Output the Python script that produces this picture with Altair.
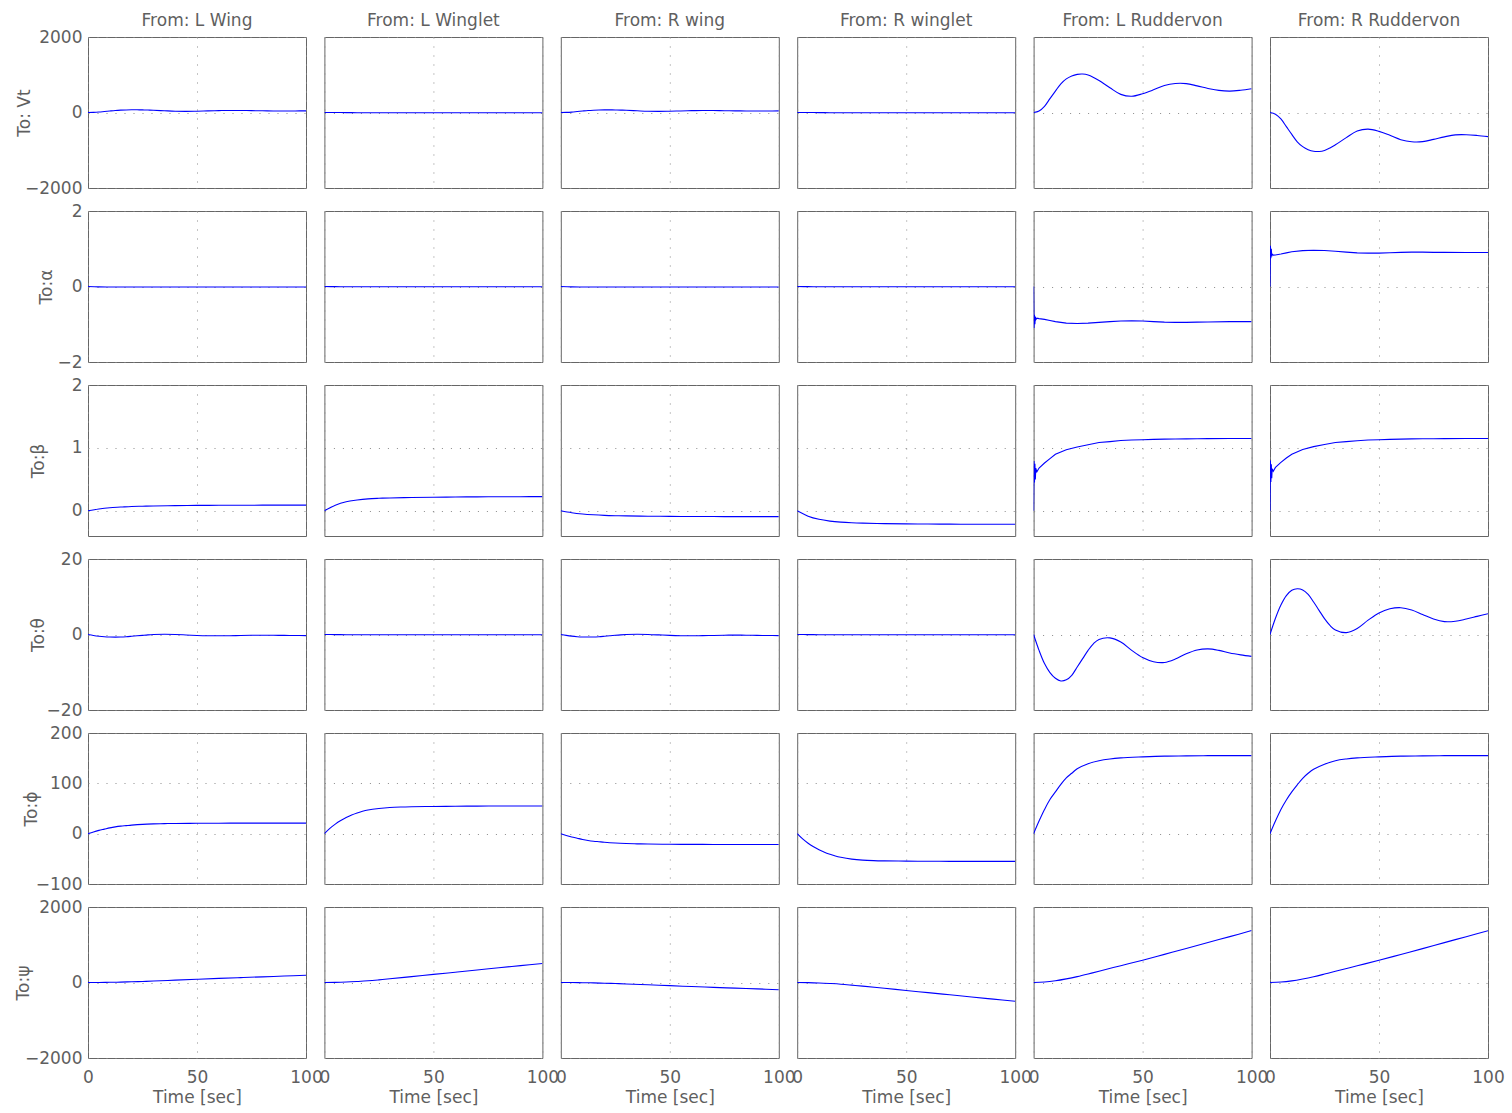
import altair as alt
import pandas as pd

# ---------------- time grids (s) ----------------
T = [0, 2.5, 5, 7.5, 10, 12.5, 15, 17.5, 20, 22.5, 25, 27.5, 30,
     35, 40, 45, 50, 55, 60, 65, 70, 75, 80, 85, 90, 95, 100]
T_SPIKE = [0, 0.2, 0.4, 0.6, 0.8, 1.0, 1.5, 2.5, 5, 7.5, 10, 15, 20, 25, 30,
           35, 40, 45, 50, 55, 60, 65, 70, 75, 80, 90, 100]
T_P = [0, 2.5, 5, 7.5, 10, 12.5, 15, 17.5, 20, 25, 30, 35, 40, 50, 60, 70, 80, 90, 100]
T_C = [0, 5, 10, 15, 20, 25, 30, 40, 50, 60, 70, 80, 90, 100]

# ---------------- To: Vt ----------------
VT_LW = [0, 3, 12, 26, 40, 53, 62, 68, 71, 71, 69, 65, 59,
         46, 34, 30, 35, 42, 50, 54, 54, 49, 45, 41, 40, 41, 44]
VT_LWL = [0, -1, -3, -5, -6, -7, -8, -8, -8, -8, -8, -8, -8, -8]
VT_RW = [0, 3, 11, 25, 39, 52, 61, 67, 70, 70, 68, 64, 58,
         45, 33, 29, 34, 41, 49, 53, 53, 48, 44, 40, 39, 40, 43]
VT_RWL = [0, -1, -3, -5, -6, -7, -8, -8, -8, -8, -8, -8, -8, -8]
VT_LR = [0, 42, 165, 367, 566, 760, 890, 969, 1011, 1020, 995, 930, 846,
         655, 480, 430, 498, 600, 715, 768, 765, 705, 638, 585, 567, 590, 629]
VT_RR = [0, -45, -170, -375, -580, -775, -905, -985, -1028, -1032, -1005, -940, -855,
         -665, -490, -440, -500, -605, -720, -775, -772, -712, -645, -592, -588, -608, -639]

# ---------------- To: alpha ----------------
AL_LW = [0, -0.01, -0.012, -0.013, -0.013, -0.013, -0.013, -0.013, -0.013, -0.013, -0.013, -0.013, -0.013, -0.013]
AL_LWL = [0, -0.004, -0.005, -0.005, -0.005, -0.005, -0.005, -0.005, -0.005, -0.005, -0.005, -0.005, -0.005, -0.005]
AL_RW = [0, -0.01, -0.012, -0.013, -0.013, -0.013, -0.013, -0.013, -0.013, -0.013, -0.013, -0.013, -0.013, -0.013]
AL_RWL = [0, -0.004, -0.005, -0.005, -0.005, -0.005, -0.005, -0.005, -0.005, -0.005, -0.005, -0.005, -0.005, -0.005]
AL_LR = [0, -1.1, -0.75, -1.0, -0.8, -0.88, -0.84, -0.85, -0.87, -0.9, -0.93, -0.97, -0.98, -0.97,
         -0.95, -0.93, -0.915, -0.91, -0.915, -0.93, -0.945, -0.95, -0.95, -0.945, -0.94, -0.93, -0.93]
AL_RR = [0, 1.08, 0.75, 1.0, 0.8, 0.86, 0.83, 0.835, 0.86, 0.89, 0.92, 0.95, 0.96, 0.955,
         0.935, 0.91, 0.89, 0.885, 0.885, 0.895, 0.905, 0.91, 0.91, 0.905, 0.905, 0.9, 0.9]

# ---------------- To: beta ----------------
BE_LW = [0, 0.03, 0.05, 0.06, 0.07, 0.074, 0.078, 0.083, 0.086, 0.088, 0.089, 0.09, 0.09, 0.09]
BE_LWL = [0, 0.09, 0.145, 0.172, 0.19, 0.199, 0.205, 0.212, 0.216, 0.22, 0.222, 0.224, 0.225, 0.226]
BE_RW = [0, -0.03, -0.05, -0.063, -0.072, -0.077, -0.08, -0.085, -0.088, -0.09, -0.091, -0.092, -0.092, -0.092]
BE_RWL = [0, -0.085, -0.135, -0.163, -0.18, -0.19, -0.196, -0.203, -0.207, -0.21, -0.212, -0.213, -0.214, -0.214]
BE_LR = [0, 0.79, 0.45, 0.75, 0.5, 0.68, 0.62, 0.68, 0.76, 0.83, 0.9, 0.97, 1.015, 1.05, 1.085,
         1.1, 1.117, 1.125, 1.13, 1.135, 1.14, 1.142, 1.144, 1.146, 1.147, 1.149, 1.15]
BE_RR = [0, 0.8, 0.46, 0.74, 0.52, 0.67, 0.63, 0.69, 0.77, 0.84, 0.9, 0.975, 1.02, 1.055, 1.085,
         1.1, 1.115, 1.125, 1.13, 1.135, 1.14, 1.143, 1.145, 1.146, 1.147, 1.149, 1.15]

# ---------------- To: theta ----------------
TH_LW = [0, -0.25, -0.45, -0.6, -0.68, -0.7, -0.68, -0.6, -0.48, -0.35, -0.22, -0.1, -0.02,
         0.05, 0.0, -0.12, -0.25, -0.33, -0.35, -0.32, -0.26, -0.2, -0.18, -0.2, -0.24, -0.27, -0.3]
TH_LWL = [0, -0.03, -0.05, -0.05, -0.05, -0.05, -0.05, -0.05, -0.05, -0.05, -0.05, -0.05, -0.05, -0.05]
TH_RW = [0, -0.24, -0.44, -0.58, -0.66, -0.68, -0.66, -0.58, -0.46, -0.33, -0.2, -0.09, -0.01,
         0.05, 0.0, -0.11, -0.24, -0.32, -0.34, -0.31, -0.25, -0.19, -0.17, -0.19, -0.23, -0.26, -0.29]
TH_RWL = [0, -0.03, -0.05, -0.05, -0.05, -0.05, -0.05, -0.05, -0.05, -0.05, -0.05, -0.05, -0.05, -0.05]
TH_LR = [0, -4.2, -7.7, -10.1, -11.6, -12.3, -12.0, -10.8, -8.6, -6.4, -4.2, -2.4, -1.3,
         -0.9, -2.0, -4.2, -6.1, -7.2, -7.4, -6.5, -5.1, -4.1, -3.8, -4.2, -4.9, -5.4, -5.8]
TH_RR = [0, 4.3, 7.8, 10.3, 11.7, 12.1, 11.8, 10.6, 8.6, 6.4, 4.2, 2.4, 1.2,
         0.5, 1.6, 3.8, 5.7, 6.8, 7.1, 6.5, 5.3, 4.1, 3.4, 3.5, 4.1, 4.8, 5.5]

# ---------------- To: phi ----------------
PH_LW = [0, 3.5, 6.5, 9, 11.5, 13.5, 15, 16, 17, 18.5, 19.4, 20, 20.3, 20.6, 20.8, 21, 21, 21, 21]
PH_LWL = [0, 10.5, 19, 26, 32, 37, 41, 44.5, 47, 50, 52, 53, 53.5, 54, 54.5, 54.8, 55, 55, 55]
PH_RW = [0, -3.5, -6.5, -9, -11.5, -13.5, -15, -16, -17, -18.5, -19.5, -20.2, -20.6, -21, -21.3, -21.4, -21.5, -21.5, -21.5]
PH_RWL = [0, -10.5, -19, -26, -32, -37, -41, -44.5, -47, -50.5, -52.5, -53.5, -54, -54.5, -54.8, -55, -55, -55, -55]
PH_LR = [0, 25, 48, 68, 83, 98, 111, 120, 129, 139, 145, 148.5, 150.5, 152.5, 154, 154.5, 155, 155, 155]
PH_RR = [0, 25, 48, 67, 83, 97, 110, 120, 128, 138, 145, 148.5, 150.5, 152.5, 154, 154.5, 155, 155, 155]

# ---------------- To: psi ----------------
PS_LW = [0, 1, 5, 11, 19, 28, 38, 62, 86, 108, 130, 150, 171, 191]
PS_LWL = [0, 3, 12, 27, 45, 70, 98, 155, 215, 272, 330, 390, 447, 504]
PS_RW = [0, -1, -5, -11, -19, -28, -38, -61, -84, -107, -129, -150, -170, -191]
PS_RWL = [0, -3, -12, -27, -45, -70, -97, -153, -212, -268, -326, -385, -441, -496]
PS_LR = [0, 12, 45, 95, 155, 225, 300, 445, 590, 745, 900, 1060, 1215, 1375]
PS_RR = [0, 12, 44, 94, 154, 224, 298, 443, 588, 743, 898, 1057, 1213, 1372]

COL_TITLES = ["From: L Wing", "From: L Winglet", "From: R wing",
              "From: R winglet", "From: L Ruddervon", "From: R Ruddervon"]
ROW_TITLES = ["To: Vt", "To:\u03b1", "To:\u03b2", "To:\u03b8", "To:\u03d5", "To:\u03c8"]
Y_DOMAINS = [[-2000, 2000], [-2, 2], [-0.4, 2], [-20, 20], [-100, 200], [-2000, 2000]]
Y_TICKS = [[-2000, 0, 2000], [-2, 0, 2], [0, 1, 2], [-20, 0, 20], [-100, 0, 100, 200], [-2000, 0, 2000]]
X_TICKS = [0, 50, 100]
ROW_TITLE_PAD = [-9, 1, 24, -1, -5, -8]

CURVES = [
    [(T, VT_LW), (T_C, VT_LWL), (T, VT_RW), (T_C, VT_RWL), (T, VT_LR), (T, VT_RR)],
    [(T_C, AL_LW), (T_C, AL_LWL), (T_C, AL_RW), (T_C, AL_RWL), (T_SPIKE, AL_LR), (T_SPIKE, AL_RR)],
    [(T_C, BE_LW), (T_C, BE_LWL), (T_C, BE_RW), (T_C, BE_RWL), (T_SPIKE, BE_LR), (T_SPIKE, BE_RR)],
    [(T, TH_LW), (T_C, TH_LWL), (T, TH_RW), (T_C, TH_RWL), (T, TH_LR), (T, TH_RR)],
    [(T_P, PH_LW), (T_P, PH_LWL), (T_P, PH_RW), (T_P, PH_RWL), (T_P, PH_LR), (T_P, PH_RR)],
    [(T_C, PS_LW), (T_C, PS_LWL), (T_C, PS_RW), (T_C, PS_RWL), (T_C, PS_LR), (T_C, PS_RR)],
]

FONT = "DejaVu Sans"
TXT = "#5f5f5f"
GRID = "#8a8a8a"
FS = 17

cells = []
for r in range(6):
    for c in range(6):
        times, vals = CURVES[r][c]
        df = pd.DataFrame({"t": times, "v": vals})
        bottom = r == 5
        left = c == 0
        if bottom:
            xaxis = alt.Axis(values=X_TICKS, grid=True, gridColor=GRID, gridDash=[1, 8],
                             ticks=False, domain=False, labels=True, labelFlush=False,
                             labelOverlap=False, labelPadding=11, title="Time [sec]",
                             titlePadding=4, format="d")
        else:
            xaxis = alt.Axis(values=X_TICKS, grid=True, gridColor=GRID, gridDash=[1, 8],
                             ticks=False, domain=False, labels=False, title=None)
        if left:
            yaxis = alt.Axis(values=Y_TICKS[r], grid=True, gridColor=GRID, gridDash=[1, 8],
                             ticks=False, domain=False, labels=True, labelPadding=6,
                             labelOverlap=False, format="d", title=ROW_TITLES[r],
                             titlePadding=ROW_TITLE_PAD[r])
        else:
            yaxis = alt.Axis(values=Y_TICKS[r], grid=True, gridColor=GRID, gridDash=[1, 8],
                             ticks=False, domain=False, labels=False, title=None)
        interp = "linear" if times is T_SPIKE else "catmull-rom"
        ch = alt.Chart(df).mark_line(color="#0000ff", strokeWidth=1.1,
                                     interpolate=interp, clip=True).encode(
            x=alt.X("t:Q", scale=alt.Scale(domain=[0, 100], nice=False, zero=False), axis=xaxis),
            y=alt.Y("v:Q", scale=alt.Scale(domain=Y_DOMAINS[r], nice=False, zero=False), axis=yaxis),
        ).properties(width=218, height=151)
        if r == 0:
            ch = ch.properties(title=alt.TitleParams(text=COL_TITLES[c], fontSize=FS, font=FONT,
                                                     color=TXT, fontWeight="normal",
                                                     offset=(-2 if c == 0 else 7),
                                                     anchor="middle"))
        cells.append(ch)

chart = alt.concat(*cells, columns=6, spacing={"row": 23, "column": 18.4}, bounds="flush").properties(
    padding={"left": 13, "top": 11, "right": 5, "bottom": 5},
    background="white",
).configure_view(
    stroke="#666666", strokeWidth=1
).configure_axis(
    labelFont=FONT, titleFont=FONT, labelFontSize=FS, titleFontSize=FS,
    labelColor=TXT, titleColor=TXT, titleFontWeight="normal", gridWidth=1,
)

chart.save("out.html", embed_options={"renderer": "svg", "actions": False})
